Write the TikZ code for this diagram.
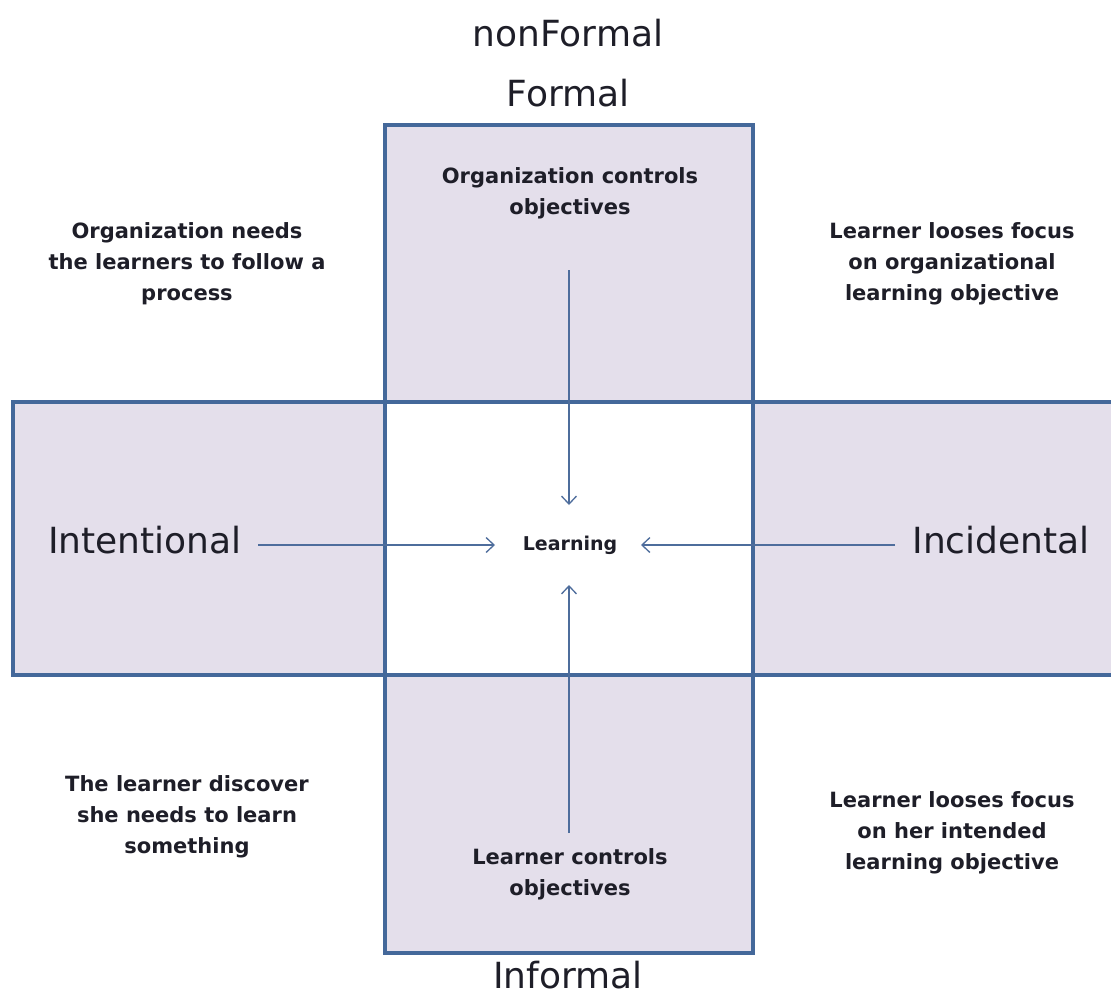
\documentclass[tikz,border=0pt]{standalone}
\usepackage{fontspec}
\setmainfont{DejaVu Sans}
\usetikzlibrary{arrows.meta}
\definecolor{boxfill}{HTML}{E4DFEB}
\definecolor{boxline}{HTML}{44689A}
\definecolor{arrowcol}{HTML}{4E6D9C}
\definecolor{txt}{HTML}{1E1E28}
\tikzset{
  bigtext/.style={font=\fontsize{36}{40}\selectfont, text=txt},
  note/.style={font=\bfseries\fontsize{21}{31}\selectfont, text=txt, align=center},
  boxborder/.style={draw=boxline, line width=3.5pt},
  flow/.style={draw=arrowcol, line width=1.3pt, -{Straight Barb[length=8pt,width=15pt,line width=1.3pt]}}
}
\begin{document}
\begin{tikzpicture}[x=1pt,y=-1pt]
\useasboundingbox (0,0) rectangle (1111,999);
\clip (0,0) rectangle (1111,999);
% fills
\fill[boxfill] (13,402) rectangle (1130,675);
\fill[boxfill] (385,125) rectangle (753,953);
\fill[white] (385,402) rectangle (753,675);
% borders
\draw[boxborder] (13,402) rectangle (1130,675);
\draw[boxborder] (385,125) rectangle (753,953);
% labels
\node[bigtext] (nonformal) at (568,33) {nonFormal};
\node[bigtext] (formal) at (568,93) {Formal};
\node[bigtext] (informal) at (568,975) {Informal};
\node[bigtext] (intent) at (145,540) {Intentional};
\node[bigtext] (incid) at (1001,540) {Incidental};
\node[note, font=\bfseries\fontsize{19}{30}\selectfont] (learning) at (570,545) {Learning};
\node[note] (orgctl) at (570,193) {Organization controls\\objectives};
\node[note] (lrnctl) at (570,874) {Learner controls\\objectives};
\node[note] (orgneeds) at (187,264) {Organization needs\\the learners to follow a\\process};
\node[note] (lostorg) at (952,264) {Learner looses focus\\on organizational\\learning objective};
\node[note] (discover) at (187,817) {The learner discover\\she needs to learn\\something};
\node[note] (lostown) at (952,833) {Learner looses focus\\on her intended\\learning objective};
% connector start points
\coordinate (topstart) at (569,270);
\coordinate (botstart) at (569,833);
\coordinate (leftstart) at (258,545);
\coordinate (rightstart) at (895,545);
\coordinate (topend) at (569,505);
\coordinate (botend) at (569,585);
\coordinate (leftend) at (495,545);
\coordinate (rightend) at (641,545);
% connectors
\draw[flow] (topstart) -- (topend);
\draw[flow] (botstart) -- (botend);
\draw[flow] (leftstart) -- (leftend);
\draw[flow] (rightstart) -- (rightend);
\end{tikzpicture}
\end{document}
